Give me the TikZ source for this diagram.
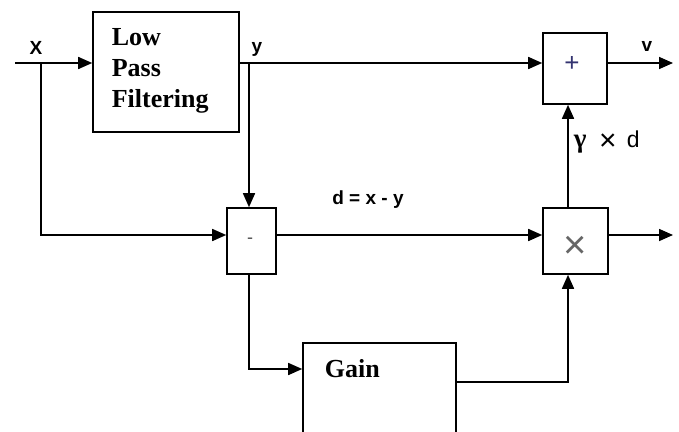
\documentclass[tikz,border=0pt]{standalone}
\usepackage{fontspec}
\setmainfont{Liberation Serif}
\setsansfont{Liberation Sans}
\usetikzlibrary{arrows.meta,calc}
\begin{document}
\begin{tikzpicture}[x=1pt,y=-1pt,
  line width=1.6pt,
  arr/.style={-{Triangle[length=14pt,width=12pt]}},
  blk/.style={draw,line width=1.6pt,inner sep=0pt},
  serifbold/.style={font=\fontsize{26}{31}\selectfont\bfseries},
  sanslab/.style={font=\sffamily\bfseries\fontsize{19}{22}\selectfont},
  opsym/.style={font=\sffamily\fontsize{26}{28}\selectfont, text=black!70}]
\useasboundingbox (0,0) rectangle (679,431);
\clip (0,0) rectangle (679,431);
% blocks
\node[blk,minimum width=146pt,minimum height=120pt] (lpf) at (166,72) {};
\node[serifbold,align=left,anchor=north west,inner sep=0pt] (lpftxt) at (111,28) {Low\\Pass\\Filtering};
\node[blk,minimum width=64pt,minimum height=71pt] (plus) at (575,68.5) {};
\node[opsym,text=black!70!blue!80] (plussym) at (572,64) {+};
\node[blk,minimum width=49pt,minimum height=66pt] (minus) at (251.5,241) {};
\node[opsym,font=\sffamily\fontsize{18}{20}\selectfont] (minussym) at (250,241) {-};
\node[blk,minimum width=65pt,minimum height=66pt] (mult) at (575.5,241) {};
\node[opsym,font=\sffamily\fontsize{40}{42}\selectfont,text=black!60] (multsym) at (575,247) {×};
\node[blk,minimum width=153pt,minimum height=130pt] (gain) at (379.5,408) {};
\node[serifbold,anchor=base west,inner sep=0pt] (gaintxt) at (324,377) {Gain};
% coordinates
\coordinate (xin) at (15,63);
\coordinate (xbr) at (41,63);
\coordinate (ybr) at (249,63);
\coordinate (dl) at (0,235);
\coordinate (gin) at (0,369);
\coordinate (gout) at (0,382);
\coordinate (vc) at (568,0);
\coordinate (vout) at (673,63);
\coordinate (mout) at (673,235);
% connectors
\draw[arr] (xin) -- (lpf.west |- xin);
\draw[arr] (xbr) |- (minus.west |- dl);
\draw[arr] (lpf.east |- xin) -- (plus.west |- xin);
\draw[arr] (ybr) -- (ybr |- minus.north);
\draw[arr] (minus.east |- dl) -- (mult.west |- dl);
\draw[arr] (minus.south -| ybr) |- (gain.west |- gin);
\draw[arr] (gain.east |- gout) -| (vc |- mult.south);
\draw[arr] (vc |- mult.north) -- (vc |- plus.south);
\draw[arr] (plus.east |- xin) -- (vout);
\draw[arr] (mult.east |- dl) -- (mout);
% labels
\node[sanslab] (lx) at (36,48) {X};
\node[sanslab] (ly) at (257,49) {y};
\node[sanslab] (lv) at (647,46) {v};
\node[sanslab] (ld) at (368,200) {d = x - y};
\node[font=\sffamily\fontsize{23}{26}\selectfont,anchor=base west,inner sep=0pt] (lg) at (573,147) {{\rmfamily\bfseries\fontsize{27}{27}\selectfont γ}\ \ \raisebox{-3pt}{\fontsize{30}{30}\selectfont ×}\ \,d};
\end{tikzpicture}
\end{document}
